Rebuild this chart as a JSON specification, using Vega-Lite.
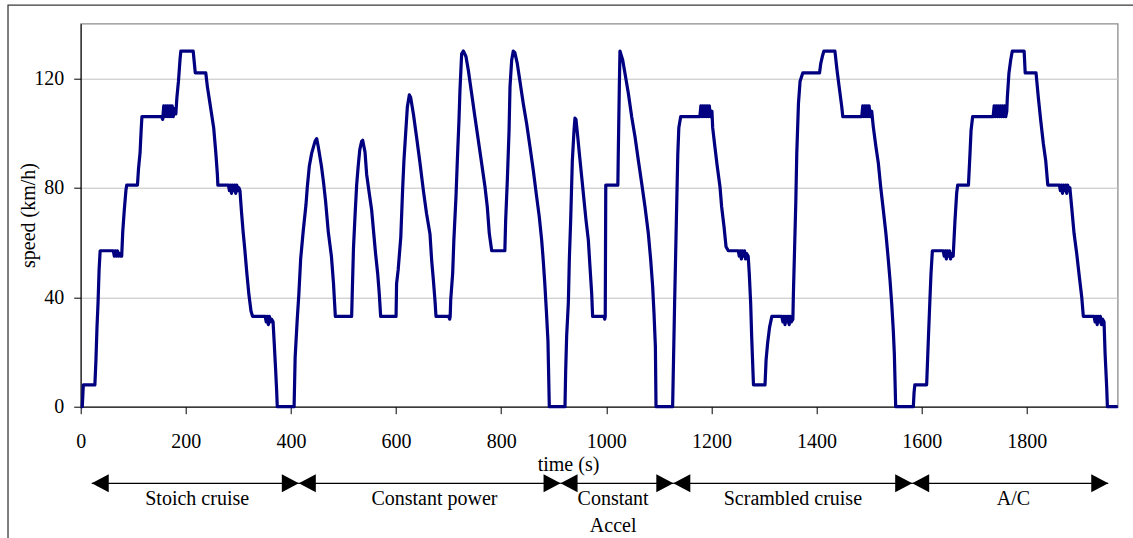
{
  "$schema": "https://vega.github.io/schema/vega-lite/v6.json",
  "width": 1037,
  "height": 383,
  "autosize": {"type": "none"},
  "padding": {"left": 80.7, "top": 23.7, "right": 15.3, "bottom": 131.3},
  "background": "white",
  "config": {
    "view": {"stroke": "#8c8c8c", "strokeWidth": 1.3},
    "font": "Liberation Serif"
  },
  "datasets": {
    "speed": [
      {"time":0,"speed":0},{"time":3,"speed":0},{"time":5,"speed":8},{"time":27,"speed":8},{"time":29,"speed":17},{"time":31,"speed":29},{"time":33,"speed":38},{"time":35,"speed":50},{"time":37,"speed":57},
      {"time":62,"speed":57},{"time":64,"speed":55},{"time":66,"speed":57},{"time":68,"speed":55},{"time":70,"speed":57},{"time":72,"speed":55},{"time":74,"speed":56},{"time":76,"speed":55},{"time":78,"speed":55},
      {"time":80,"speed":64},{"time":83,"speed":72},{"time":86,"speed":79},{"time":87.5,"speed":81},{"time":108,"speed":81},{"time":110,"speed":87},{"time":113,"speed":93},{"time":115,"speed":101},{"time":116.5,"speed":106},
      {"time":154,"speed":106},{"time":156,"speed":105},{"time":158,"speed":110},{"time":160,"speed":106},{"time":162,"speed":110},{"time":164,"speed":106},{"time":166,"speed":110},{"time":168,"speed":106},{"time":170,"speed":110},{"time":172,"speed":106},{"time":174,"speed":110},{"time":176,"speed":106},{"time":178,"speed":109},{"time":181,"speed":107},
      {"time":183,"speed":113},{"time":186,"speed":119},{"time":189,"speed":127},{"time":190.5,"speed":130},{"time":214,"speed":130},{"time":216,"speed":126},{"time":218,"speed":122},{"time":238,"speed":122},
      {"time":241,"speed":117},{"time":245,"speed":112},{"time":249,"speed":107},{"time":253,"speed":102},{"time":257,"speed":93},{"time":260,"speed":85},{"time":261,"speed":81},
      {"time":281,"speed":81},{"time":283,"speed":79},{"time":285,"speed":81},{"time":287,"speed":78},{"time":289,"speed":81},{"time":291,"speed":79},{"time":293,"speed":81},{"time":295,"speed":78},{"time":297,"speed":81},{"time":299,"speed":79},{"time":301,"speed":80},{"time":303,"speed":79},
      {"time":306,"speed":71},{"time":309,"speed":64},{"time":312,"speed":58},{"time":316,"speed":49},{"time":320,"speed":41},{"time":324,"speed":35},{"time":327,"speed":33},
      {"time":351,"speed":33},{"time":353,"speed":31},{"time":355,"speed":33},{"time":357,"speed":30},{"time":359,"speed":33},{"time":361,"speed":31},{"time":363,"speed":32},{"time":366,"speed":31},
      {"time":368,"speed":24},{"time":371,"speed":13},{"time":373,"speed":5},{"time":374,"speed":0},{"time":406,"speed":0},
      {"time":408,"speed":18},{"time":412,"speed":32},{"time":415,"speed":41},{"time":418.5,"speed":54},{"time":423.5,"speed":64.5},{"time":428.7,"speed":74},{"time":431,"speed":80},{"time":435,"speed":88},{"time":439.4,"speed":92.6},{"time":445.8,"speed":97},{"time":449,"speed":98},
      {"time":452,"speed":95},{"time":458,"speed":88},{"time":462,"speed":82},{"time":466,"speed":75},{"time":471,"speed":64},{"time":477,"speed":55},{"time":481,"speed":45},{"time":483,"speed":38},{"time":484.5,"speed":33},
      {"time":515.5,"speed":33},{"time":517,"speed":44},{"time":519,"speed":58},{"time":522,"speed":70},{"time":525,"speed":81},{"time":528,"speed":88},{"time":531,"speed":94},{"time":534.5,"speed":97},{"time":536.5,"speed":97.4},
      {"time":541,"speed":93},{"time":544,"speed":85},{"time":549,"speed":78},{"time":553.5,"speed":72},{"time":557,"speed":64.5},{"time":561,"speed":56},{"time":565,"speed":48.7},{"time":568,"speed":41.4},{"time":570.7,"speed":33},
      {"time":600,"speed":33},{"time":601,"speed":45},{"time":604,"speed":50},{"time":609,"speed":62},{"time":612.6,"speed":80},{"time":615,"speed":90},{"time":618.3,"speed":100},{"time":621.5,"speed":109.6},{"time":625.3,"speed":114},{"time":627.8,"speed":113},
      {"time":633,"speed":107},{"time":639,"speed":98.6},{"time":645.6,"speed":89},{"time":652,"speed":79},{"time":658,"speed":70.6},{"time":664.6,"speed":63},{"time":667.7,"speed":53.6},{"time":671,"speed":46.3},{"time":674,"speed":39},{"time":676,"speed":33},
      {"time":700,"speed":33},{"time":702,"speed":32},{"time":703,"speed":33},{"time":704,"speed":39},{"time":707.7,"speed":48.7},{"time":710,"speed":61},{"time":714,"speed":76.7},{"time":716.6,"speed":90},{"time":719.7,"speed":104.7},{"time":721.6,"speed":115.7},{"time":724.8,"speed":129},{"time":728,"speed":130},
      {"time":733,"speed":128},{"time":737.5,"speed":123},{"time":743.8,"speed":114.5},{"time":750,"speed":106},{"time":756.5,"speed":97.4},{"time":762.8,"speed":89},{"time":769.2,"speed":80.4},{"time":773.6,"speed":73},{"time":777.4,"speed":63.3},{"time":782,"speed":57},
      {"time":807,"speed":57},{"time":808.5,"speed":68},{"time":811.7,"speed":82.8},{"time":815,"speed":101},{"time":816.8,"speed":117},{"time":820,"speed":126.7},{"time":823,"speed":130},{"time":826,"speed":129.4},
      {"time":830.7,"speed":125.4},{"time":835.7,"speed":119},{"time":842,"speed":110.8},{"time":848.4,"speed":103.5},{"time":854.8,"speed":95},{"time":861,"speed":86.5},{"time":867.5,"speed":76.7},{"time":872.5,"speed":69.4},{"time":877,"speed":61},{"time":880,"speed":53.6},{"time":883,"speed":45},{"time":886,"speed":35},{"time":889,"speed":24},{"time":891.6,"speed":0},
      {"time":921.4,"speed":0},{"time":922.7,"speed":13},{"time":924.6,"speed":26},{"time":927.8,"speed":38},{"time":929.7,"speed":54},{"time":932.2,"speed":68},{"time":935.4,"speed":90},{"time":938.6,"speed":101},{"time":940.4,"speed":105.5},{"time":942.3,"speed":105},
      {"time":945,"speed":100},{"time":948.7,"speed":92.6},{"time":953.2,"speed":84},{"time":957.6,"speed":75.5},{"time":961.4,"speed":68.2},{"time":965.8,"speed":61},{"time":969,"speed":51},{"time":972.2,"speed":41.4},{"time":974,"speed":33},
      {"time":995.6,"speed":33},{"time":997,"speed":32},{"time":998,"speed":33},{"time":999,"speed":81},{"time":1022,"speed":81},{"time":1023,"speed":95},{"time":1024.8,"speed":117},{"time":1026,"speed":130},{"time":1027.5,"speed":129},
      {"time":1031.2,"speed":126.7},{"time":1035.6,"speed":121.8},{"time":1042,"speed":114.5},{"time":1048.3,"speed":106},{"time":1054.7,"speed":98.6},{"time":1061,"speed":90},{"time":1067.4,"speed":81.6},{"time":1073.7,"speed":73},{"time":1080,"speed":63.3},{"time":1084.5,"speed":53.6},{"time":1088.2,"speed":44},{"time":1090.8,"speed":34},{"time":1093.4,"speed":22},{"time":1094.6,"speed":0},
      {"time":1126.2,"speed":0},{"time":1127.5,"speed":13},{"time":1130,"speed":38},{"time":1132,"speed":56},{"time":1133.5,"speed":70},{"time":1136,"speed":92},{"time":1138,"speed":102},{"time":1141.5,"speed":106},
      {"time":1178,"speed":106},{"time":1180,"speed":110},{"time":1182,"speed":106},{"time":1184,"speed":110},{"time":1186,"speed":106},{"time":1188,"speed":110},{"time":1190,"speed":106},{"time":1192,"speed":110},{"time":1194,"speed":106},{"time":1196,"speed":110},{"time":1198,"speed":106},{"time":1201,"speed":108},
      {"time":1202.4,"speed":102},{"time":1206.6,"speed":95},{"time":1211.2,"speed":87.7},{"time":1216.3,"speed":80.4},{"time":1219.5,"speed":73},{"time":1224,"speed":65.8},{"time":1227.8,"speed":58.5},{"time":1232.2,"speed":57},
      {"time":1251,"speed":57},{"time":1253,"speed":55},{"time":1255,"speed":57},{"time":1257,"speed":54},{"time":1259,"speed":57},{"time":1261,"speed":55},{"time":1263,"speed":57},{"time":1265,"speed":54},{"time":1267,"speed":56},{"time":1270,"speed":55},
      {"time":1272,"speed":48.7},{"time":1274.7,"speed":37.8},{"time":1276.6,"speed":25.6},{"time":1280,"speed":8},{"time":1302,"speed":8},{"time":1304,"speed":17},{"time":1306.8,"speed":23},{"time":1310.6,"speed":29},{"time":1315,"speed":33},
      {"time":1334,"speed":33},{"time":1336,"speed":31},{"time":1338,"speed":33},{"time":1340,"speed":30},{"time":1342,"speed":33},{"time":1344,"speed":31},{"time":1346,"speed":33},{"time":1348,"speed":30},{"time":1350,"speed":33},{"time":1352,"speed":31},{"time":1355,"speed":32},
      {"time":1356,"speed":41.4},{"time":1358,"speed":56},{"time":1360.5,"speed":74.3},{"time":1362.4,"speed":92.6},{"time":1365.6,"speed":110.8},{"time":1368.7,"speed":119},{"time":1373.8,"speed":122},
      {"time":1405.7,"speed":122},{"time":1408,"speed":125.4},{"time":1411,"speed":128},{"time":1414,"speed":130},{"time":1435,"speed":130},{"time":1439,"speed":123},{"time":1443,"speed":117},{"time":1448,"speed":109.6},{"time":1450,"speed":106},
      {"time":1486,"speed":106},{"time":1488,"speed":110},{"time":1490,"speed":106},{"time":1492,"speed":110},{"time":1494,"speed":106},{"time":1496,"speed":110},{"time":1498,"speed":106},{"time":1500,"speed":110},{"time":1502,"speed":106},{"time":1505,"speed":108},
      {"time":1508,"speed":102.3},{"time":1513,"speed":95},{"time":1517.6,"speed":89},{"time":1522,"speed":80.4},{"time":1527,"speed":72},{"time":1532,"speed":63.3},{"time":1536.6,"speed":53.6},{"time":1539.8,"speed":46.3},{"time":1543,"speed":37.8},{"time":1546,"speed":28},{"time":1548,"speed":19.5},{"time":1550.6,"speed":0},
      {"time":1584.2,"speed":0},{"time":1585.5,"speed":5},{"time":1587,"speed":8},{"time":1609.5,"speed":8},{"time":1612.7,"speed":24.4},{"time":1615.9,"speed":40},{"time":1617.8,"speed":48.7},{"time":1620.4,"speed":57},
      {"time":1641,"speed":57},{"time":1643,"speed":55},{"time":1645,"speed":57},{"time":1647,"speed":54},{"time":1649,"speed":57},{"time":1651,"speed":55},{"time":1653,"speed":57},{"time":1655,"speed":54},{"time":1657,"speed":56},{"time":1660,"speed":55},
      {"time":1663.4,"speed":68},{"time":1666.6,"speed":78},{"time":1668.5,"speed":81},{"time":1689,"speed":81},{"time":1692,"speed":92.6},{"time":1694,"speed":101},{"time":1697,"speed":106},
      {"time":1736,"speed":106},{"time":1738,"speed":110},{"time":1740,"speed":106},{"time":1742,"speed":110},{"time":1744,"speed":106},{"time":1746,"speed":110},{"time":1748,"speed":106},{"time":1750,"speed":110},{"time":1752,"speed":106},{"time":1754,"speed":110},{"time":1756,"speed":106},{"time":1758,"speed":110},{"time":1760,"speed":106},{"time":1762,"speed":108},
      {"time":1763,"speed":113},{"time":1766,"speed":121.8},{"time":1769.4,"speed":126.7},{"time":1772.5,"speed":130},{"time":1795,"speed":130},{"time":1797,"speed":122},{"time":1817.6,"speed":122},
      {"time":1822,"speed":113},{"time":1826.5,"speed":104.7},{"time":1831.5,"speed":96.2},{"time":1836,"speed":90},{"time":1840,"speed":81},
      {"time":1862,"speed":81},{"time":1864,"speed":79},{"time":1866,"speed":81},{"time":1868,"speed":78},{"time":1870,"speed":81},{"time":1872,"speed":79},{"time":1874,"speed":81},{"time":1876,"speed":78},{"time":1878,"speed":81},{"time":1880,"speed":79},{"time":1882,"speed":80},
      {"time":1885.4,"speed":73},{"time":1890,"speed":63.3},{"time":1895,"speed":56},{"time":1900,"speed":47.5},{"time":1904.5,"speed":40.2},{"time":1907.6,"speed":33},
      {"time":1928,"speed":33},{"time":1930,"speed":31},{"time":1932,"speed":33},{"time":1934,"speed":30},{"time":1936,"speed":33},{"time":1938,"speed":31},{"time":1940,"speed":33},{"time":1942,"speed":30},{"time":1944,"speed":32},{"time":1947,"speed":31},
      {"time":1949,"speed":19.5},{"time":1952,"speed":7.3},{"time":1953.4,"speed":0},{"time":1973,"speed":0}
    ],
    "segments": [
      {"segment":"Stoich cruise","start":21,"end":415,"label_time":221.6},
      {"segment":"Constant power","start":415,"end":913,"label_time":673},
      {"segment":"Constant\nAccel","start":913,"end":1127.5,"label_time":1013},
      {"segment":"Scrambled cruise","start":1127.5,"end":1582,"label_time":1355},
      {"segment":"A/C","start":1582,"end":1955,"label_time":1774.5}
    ]
  },
  "layer": [
    {
      "data": {"name": "speed"},
      "mark": {"type": "line", "color": "#000080", "strokeWidth": 3.2, "strokeJoin": "round"},
      "encoding": {
        "x": {
          "field": "time", "type": "quantitative",
          "scale": {"domain": [0, 1973], "nice": false, "zero": false},
          "axis": {
            "title": "time (s)", "values": [0, 200, 400, 600, 800, 1000, 1200, 1400, 1600, 1800], "format": "d",
            "grid": false, "tickSize": 7, "tickColor": "black", "domainColor": "black", "tickWidth": 1, "domainWidth": 1,
            "labelFont": "Liberation Serif", "labelFontSize": 20, "labelColor": "black", "labelPadding": 18, "labelFlush": false,
            "titleFont": "Liberation Serif", "titleFontSize": 20, "titleFontWeight": "normal", "titleColor": "black",
            "titleX": 487.3, "titleY": 57.3, "titleBaseline": "middle", "titleAlign": "center"
          }
        },
        "y": {
          "field": "speed", "type": "quantitative",
          "scale": {"domain": [0, 140], "nice": false},
          "axis": {
            "title": "speed (km/h)", "values": [0, 40, 80, 120], "format": "d",
            "grid": true, "gridColor": "#c0c0c0", "gridWidth": 1, "tickSize": 7, "tickColor": "black", "domainColor": "black", "tickWidth": 1, "domainWidth": 1,
            "labelFont": "Liberation Serif", "labelFontSize": 20, "labelColor": "black", "labelPadding": 10, "labelFlush": false,
            "titleFont": "Liberation Serif", "titleFontSize": 20, "titleFontWeight": "normal", "titleColor": "black",
            "titleX": -52.4, "titleY": 191.3, "titleBaseline": "middle", "titleAlign": "center", "titleAngle": 270
          }
        }
      }
    },
    {
      "data": {"values": [{}]},
      "mark": {"type": "rect", "fill": "white", "fillOpacity": 0, "stroke": "#3a3a3a", "strokeWidth": 1.3},
      "encoding": {
        "x": {"datum": -138.3, "type": "quantitative"},
        "x2": {"datum": 2030},
        "y": {"datum": 146.8, "type": "quantitative"},
        "y2": {"datum": -60}
      }
    },
    {
      "data": {"name": "segments"},
      "mark": {"type": "rule", "color": "black", "strokeWidth": 1.3},
      "encoding": {
        "x": {"field": "start", "type": "quantitative"},
        "x2": {"field": "end"},
        "y": {"datum": -28, "type": "quantitative"}
      }
    },
    {
      "data": {"name": "segments"},
      "mark": {"type": "point", "filled": true, "opacity": 1, "color": "black", "size": 1156, "shape": "M0,0L1,-0.53L1,0.53Z", "strokeWidth": 0},
      "encoding": {
        "x": {"field": "start", "type": "quantitative"},
        "y": {"datum": -28, "type": "quantitative"}
      }
    },
    {
      "data": {"name": "segments"},
      "mark": {"type": "point", "filled": true, "opacity": 1, "color": "black", "size": 1156, "shape": "M0,0L-1,-0.53L-1,0.53Z", "strokeWidth": 0},
      "encoding": {
        "x": {"field": "end", "type": "quantitative"},
        "y": {"datum": -28, "type": "quantitative"}
      }
    },
    {
      "data": {"name": "segments"},
      "mark": {"type": "text", "font": "Liberation Serif", "fontSize": 20, "color": "black", "align": "center", "baseline": "alphabetic", "dy": 21.7, "lineBreak": "\n", "lineHeight": 27},
      "encoding": {
        "x": {"field": "label_time", "type": "quantitative"},
        "y": {"datum": -28, "type": "quantitative"},
        "text": {"field": "segment"}
      }
    }
  ]
}
